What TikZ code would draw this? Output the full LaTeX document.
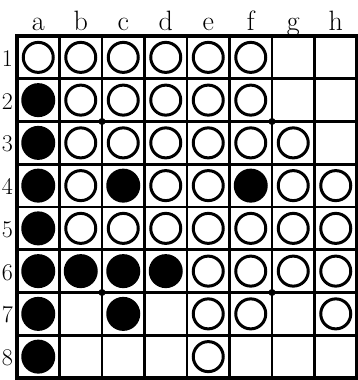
\documentclass[tikz,border=0pt]{standalone}
\usepackage{fontspec}
\begin{document}
\begin{tikzpicture}[x=1pt,y=-1pt,
  gridline/.style={line width=2.8pt},
  outer/.style={line width=4.5pt},
  wdisc/.style={circle,draw,line width=3pt,minimum size=30pt,inner sep=0pt},
  bdisc/.style={circle,fill=black,minimum size=34pt,inner sep=0pt},
  star/.style={circle,fill=black,minimum size=7pt,inner sep=0pt},
  clab/.style={font=\fontsize{28}{28}\selectfont,inner sep=0pt},
  rlab/.style={font=\fontsize{24}{24}\selectfont,inner sep=0pt}]
\useasboundingbox (0,0) rectangle (357,380);
\def\cw{42.5}\def\ch{42.75}
% grid
\foreach \i in {1,...,7}{
  \draw[gridline] ({17+\cw*\i},36) -- ({17+\cw*\i},{36+8*\ch});
  \draw[gridline] (17,{36+\ch*\i}) -- ({17+8*\cw},{36+\ch*\i});
}
\draw[outer] (17,36) rectangle ({17+8*\cw},{36+8*\ch});
% star points
\node[star] (s1) at ({17+2*\cw},{36+2*\ch}) {};
\node[star] (s2) at ({17+6*\cw},{36+2*\ch}) {};
\node[star] (s3) at ({17+2*\cw},{36+6*\ch}) {};
\node[star] (s4) at ({17+6*\cw},{36+6*\ch}) {};
% labels
\foreach \l [count=\i from 0] in {a,b,c,d,e,f,g,h}
  \node[clab,anchor=base] (c\l) at ({17+\cw*(\i+0.5)},30) {\l};
\foreach \n in {1,...,8}
  \node[rlab,anchor=base east] (r\n) at (13,{36+\ch*(\n-0.5)+9}) {\n};
% black discs
\foreach \c/\r in {1/2,1/3,1/4,1/5,1/6,1/7,1/8,3/4,6/4,2/6,3/6,4/6,3/7}
  \node[bdisc] (b\c\r) at ({17+\cw*(\c-0.5)},{36+\ch*(\r-0.5)}) {};
% white discs
\foreach \c/\r in {1/1,2/1,3/1,4/1,5/1,6/1,
  2/2,3/2,4/2,5/2,6/2,
  2/3,3/3,4/3,5/3,6/3,7/3,
  2/4,4/4,5/4,7/4,8/4,
  2/5,3/5,4/5,5/5,6/5,7/5,8/5,
  5/6,6/6,7/6,8/6,
  5/7,6/7,8/7,
  5/8}
  \node[wdisc] (w\c\r) at ({17+\cw*(\c-0.5)},{36+\ch*(\r-0.5)}) {};
\end{tikzpicture}
\end{document}
